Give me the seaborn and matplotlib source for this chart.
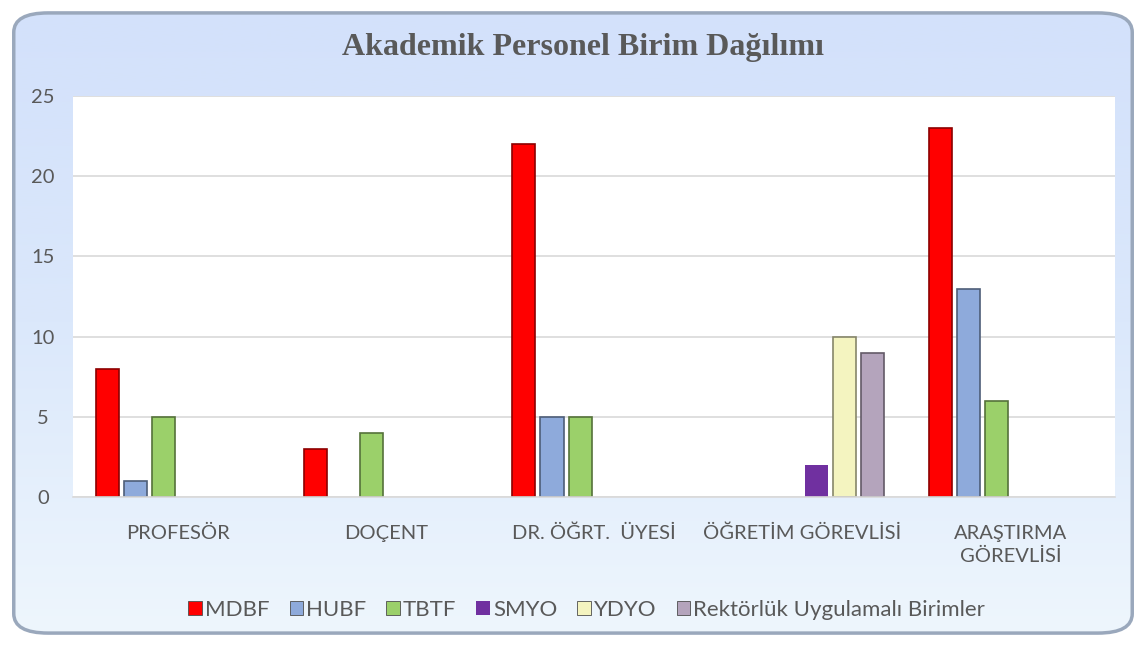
import numpy as np
import pandas as pd
import seaborn as sns
import matplotlib.pyplot as plt
from matplotlib.patches import FancyBboxPatch, Patch

# --- data ---
categories = ["PROFESÖR", "DOÇENT", "DR. ÖĞRT.  ÜYESİ", "ÖĞRETİM GÖREVLİSİ", "ARAŞTIRMA\nGÖREVLİSİ"]
units = ["MDBF", "HUBF", "TBTF", "SMYO", "YDYO", "Rektörlük Uygulamalı Birimler"]
mdbf = [8, 3, 22, 0, 23]
hubf = [1, 0, 5, 0, 13]
tbtf = [5, 4, 5, 0, 6]
smyo = [0, 0, 0, 2, 0]
ydyo = [0, 0, 0, 10, 0]
rektorluk = [0, 0, 0, 9, 0]
colors = ["#ff0000", "#8eaadb", "#9bd06a", "#7030a0", "#f4f4c0", "#b4a4bc"]

df = pd.DataFrame({
    "Kategori": categories * 6,
    "Birim": np.repeat(units, len(categories)),
    "Sayı": mdbf + hubf + tbtf + smyo + ydyo + rektorluk,
})

sns.set_theme(style="white")
plt.rcParams["font.family"] = ["Lato", "DejaVu Sans"]
text_col = "#595959"

fig = plt.figure(figsize=(11.46, 6.46), dpi=100)
fig.patch.set_facecolor("white")

# background gradient panel with rounded frame
bg = fig.add_axes([0, 0, 1, 1], zorder=-10)
bg.set_xlim(0, 1); bg.set_ylim(0, 1); bg.axis("off")
grad = np.linspace(0, 1, 256).reshape(-1, 1)
frame = FancyBboxPatch((0.012, 0.02), 0.976, 0.96, boxstyle="round,pad=0,rounding_size=0.03",
                       transform=bg.transAxes, facecolor="none", edgecolor="#9aa8bc", lw=2.5)
bg.add_patch(frame)
im = bg.imshow(grad, extent=[0.012, 0.988, 0.02, 0.98], origin="lower",
               cmap=sns.blend_palette(["#eef6fd", "#dbe8fb", "#d3e1fb"], as_cmap=True),
               aspect="auto", zorder=0)
im.set_clip_path(frame)

ax = fig.add_axes([0.064, 0.231, 0.909, 0.62])
sns.barplot(data=df, x="Kategori", y="Sayı", hue="Birim", palette=colors, saturation=1,
            width=0.81, gap=0.18, ax=ax, legend=False, errorbar=None)
for bar in ax.patches:
    fc = bar.get_facecolor()
    bar.set_edgecolor((fc[0] * 0.55, fc[1] * 0.55, fc[2] * 0.55, 1))
    bar.set_linewidth(1.2)
    if bar.get_height() == 0:
        bar.set_visible(False)
# SMYO bar is flat in the reference
for bar in ax.containers[3]:
    bar.set_edgecolor("none")

ax.set_facecolor("white")
ax.set_ylim(0, 25)
ax.set_yticks([0, 5, 10, 15, 20, 25])
ax.yaxis.grid(True, color="#d9d9d9", lw=1.2)
ax.set_axisbelow(True)
for s in ["left", "right", "top"]:
    ax.spines[s].set_visible(False)
ax.spines["bottom"].set_color("#d9d9d9")
ax.spines["bottom"].set_linewidth(1.2)
ax.tick_params(axis="y", labelsize=14.5, colors=text_col, pad=22, length=0)
ax.tick_params(axis="x", labelsize=14.5, colors=text_col, pad=20, length=0)
for lbl in ax.get_yticklabels():
    lbl.set_horizontalalignment("center")
for lbl in ax.get_xticklabels():
    lbl.set_linespacing(1.45)
ax.set_xlabel("")
ax.set_ylabel("")

fig.text(0.509, 0.927, "Akademik Personel Birim Dağılımı", ha="center", va="center",
         fontsize=23, fontweight="bold", color=text_col, family="Liberation Serif")

handles = [Patch(facecolor=c, edgecolor=(0.3, 0.3, 0.3) if u != "SMYO" else "none", lw=0.6)
           for c, u in zip(colors, units)]
fig.legend(handles, units, loc="center", bbox_to_anchor=(0.512, 0.056), ncol=6,
           frameon=False, fontsize=16, handlelength=0.6, handleheight=0.6,
           handletextpad=0.15, columnspacing=0.9, labelcolor=text_col)

fig.savefig("out.png", dpi=100, facecolor=fig.get_facecolor())
